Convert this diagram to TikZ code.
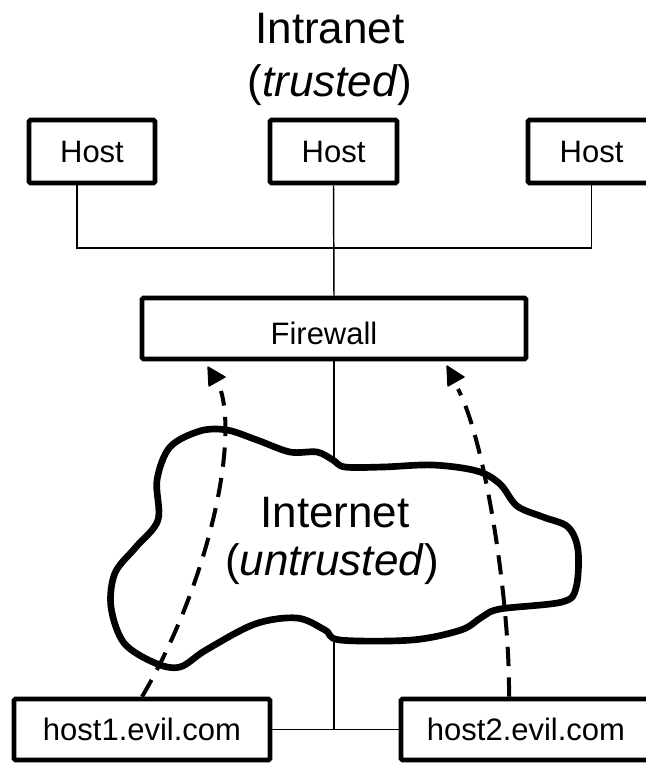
\documentclass[tikz,border=0pt]{standalone}
\usepackage{fontspec}
\setmainfont{Liberation Sans}
\begin{document}
\begin{tikzpicture}[x=0.75pt,y=-0.75pt,
  box/.style={draw, line width=3.4pt, rounded corners=1pt, inner sep=0pt,
    font=\fontsize{23.25}{28}\selectfont},
  smalltext/.style={inner sep=0pt, font=\fontsize{23.25}{28}\selectfont},
  bigtext/.style={inner sep=0pt, anchor=base, font=\fontsize{33}{39}\selectfont},
  wire/.style={line width=1.1pt},
  attack/.style={line width=3pt, dash pattern=on 14.5pt off 8.5pt},
  tiphead/.style={fill=black, draw=black, line width=1pt, line join=round},
  cloudline/.style={line width=5pt, fill=white, line join=round}
]
\useasboundingbox (0,0) rectangle (646,764);
\clip (0,0) rectangle (646,764);
\fill[white] (0,0) rectangle (646,764);

% title
\node[bigtext] (intranet) at (330,43) {Intranet};
\node[bigtext] (trusted) at (330,96) {(\textit{trusted})};

% hosts
\node[box, minimum width=94.5pt, minimum height=47.25pt] (h1) at (92,151.5) {Host};
\node[box, minimum width=95.25pt, minimum height=47.25pt] (h2) at (333.5,151.5) {Host};
\node[box, minimum width=95.25pt, minimum height=47.25pt] (h3) at (591.5,151.5) {Host};

% firewall
\node[box, minimum width=288pt, minimum height=45.75pt] (fw) at (334,328.5) {};
\node[smalltext] (fwlabel) at (324,333) {Firewall};

% evil hosts
\node[box, minimum width=192pt, minimum height=45.75pt] (e1) at (142,729.5) {host1.evil.com};
\node[box, minimum width=187.5pt, minimum height=45.75pt] (e2) at (526,729.5) {host2.evil.com};

% wiring
\coordinate (bl) at (77,248);
\draw[wire] (bl |- h1.south) -- (bl) -| (h3.south);
\draw[wire] (h2.south) -- (fw.north);
\coordinate (ctop) at (334,462);
\coordinate (cbot) at (334,640);
\coordinate (bb) at (334,730);
\draw[wire] (fw.south) -- (ctop);
\draw[wire] (e1.east) -- (e2.west);
\draw[wire] (cbot) -- (bb);

% cloud
\draw[cloudline] plot[smooth cycle, tension=0.55] coordinates {
 (170,447) (200,431) (227,430) (257,440) (290,452) (317,452) (333,460)
 (345,467) (383,467) (433,465) (477,471) (500,484) (517,506) (543,517)
 (568,527) (578,550) (576,588) (562,602) (500,609) (482,617) (461,630)
 (412,640) (340,640) (325,630) (297,618) (255,624) (206,650) (180,667)
 (155,663) (124,643) (111,607) (115,573) (136,547) (158,520) (157,480)};
\node[bigtext] (internet) at (335,527) {Internet};
\node[bigtext] (untrusted) at (332,575) {(\textit{untrusted})};

% attack arrows
\coordinate (a1) at (221,391);
\coordinate (a2) at (458,389);
\draw[attack] (e1.north) .. controls (205,590) and (238,450) .. (a1);
\draw[attack] ([xshift=-12.75pt]e2.north) .. controls (510,600) and (485,440) .. (a2);
\filldraw[tiphead] (208,367) -- (225,377) -- (209,386) -- cycle;
\filldraw[tiphead] (447,366) -- (464,377) -- (448,386) -- cycle;
\end{tikzpicture}
\end{document}
